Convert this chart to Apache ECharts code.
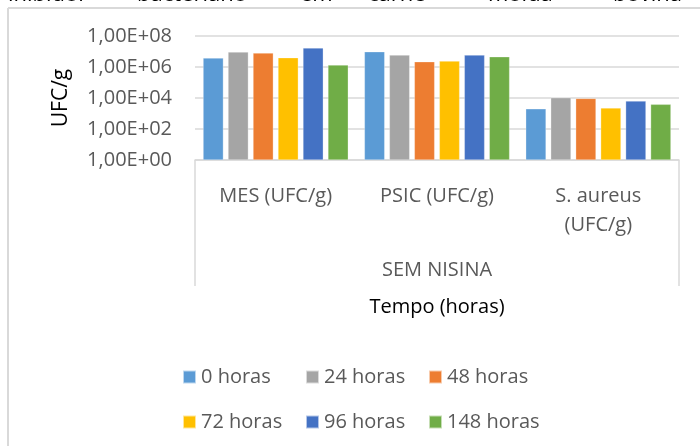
<!DOCTYPE html>
<html>
<head>
<meta charset="utf-8">
<script src="https://cdn.jsdelivr.net/npm/echarts@6/dist/echarts.min.js"></script>
<style>
  html, body { margin: 0; padding: 0; background: #fff; }
  #chart { width: 700px; height: 446px; }
</style>
</head>
<body>
<div id="chart"></div>
<script>
const categories = ['MES (UFC/g)', 'PSIC (UFC/g)', 'S. aureus\n(UFC/g)'];
const groupLabel = ['SEM NISINA'];
const seriesNames = ['0 horas', '24 horas', '48 horas', '72 horas', '96 horas', '148 horas'];
const h0   = [3.8e6, 9.7e6, 2.0e3];
const h24  = [9.3e6, 5.9e6, 1.05e4];
const h48  = [8.0e6, 2.2e6, 9.4e3];
const h72  = [4.0e6, 2.4e6, 2.3e3];
const h96  = [1.7e7, 5.9e6, 6.4e3];
const h148 = [1.35e6, 4.6e6, 3.9e3];
const seriesValues = [h0, h24, h48, h72, h96, h148];
const colors = ['#5B9BD5', '#A5A5A5', '#ED7D31', '#FFC000', '#4472C4', '#70AD47'];
const topWords = ['inibidor', 'bacteriano', 'em', 'carne', 'moída', 'bovina'];

const FONT = 'Open Sans';
const chart = echarts.init(document.getElementById('chart'), null, { renderer: 'canvas' });

const legendPos = [[182, 367], [305, 367], [428, 367], [182, 412], [305, 412], [428, 412]];
const topWordX = [8, 137, 300, 368, 488, 613];

const option = {
  backgroundColor: '#ffffff',
  animation: false,
  textStyle: { fontFamily: FONT },
  grid: { left: 195, right: 21, top: 36, bottom: 286, containLabel: false },
  xAxis: [
    {
      type: 'category',
      data: categories,
      position: 'bottom',
      axisLine: { show: true, lineStyle: { color: '#d9d9d9', width: 1.5 } },
      axisTick: { show: false },
      axisLabel: { color: '#595959', fontSize: 20, fontFamily: FONT, margin: 22, lineHeight: 29 },
      splitLine: { show: false }
    },
    {
      type: 'category',
      data: groupLabel,
      position: 'bottom',
      axisLine: { show: false },
      axisTick: { show: true, length: 126, lineStyle: { color: '#d9d9d9', width: 1.5 } },
      axisLabel: { color: '#595959', fontSize: 20, fontFamily: FONT, margin: 100 },
      name: 'Tempo (horas)',
      nameLocation: 'middle',
      nameGap: 137,
      nameTextStyle: { color: '#000', fontSize: 20, fontFamily: FONT }
    }
  ],
  yAxis: {
    type: 'log',
    logBase: 10,
    min: 1,
    max: 1e8,
    interval: 2,
    name: 'UFC/g',
    nameLocation: 'middle',
    nameRotate: 90,
    nameGap: 123,
    nameTextStyle: { color: '#000', fontSize: 21, fontFamily: FONT },
    axisLine: { show: false },
    axisTick: { show: false },
    axisLabel: {
      color: '#595959', fontSize: 20, fontFamily: FONT, margin: 23,
      formatter: function (v) {
        const e = Math.round(Math.log10(v));
        return '1,00E+' + String(e).padStart(2, '0');
      }
    },
    splitLine: { show: true, lineStyle: { color: '#d9d9d9', width: 1.5 } }
  },
  legend: seriesNames.map(function (n, i) {
    return {
      data: [n],
      left: legendPos[i][0],
      top: legendPos[i][1],
      itemWidth: 13,
      itemHeight: 13,
      icon: 'rect',
      padding: 0,
      textStyle: { color: '#595959', fontSize: 20, fontFamily: FONT },
      selectedMode: false
    };
  }),
  series: seriesNames.map(function (n, i) {
    return {
      name: n,
      type: 'bar',
      xAxisIndex: 0,
      data: seriesValues[i],
      barGap: '23%',
      barCategoryGap: '10%',
      itemStyle: { color: colors[i], borderColor: 'rgba(255,255,255,0.6)', borderWidth: 0.5 }
    };
  }),
  graphic: [
    { type: 'line', shape: { x1: 8, y1: 8, x2: 700, y2: 8 }, style: { stroke: '#d9d9d9', lineWidth: 2 }, silent: true },
    { type: 'line', shape: { x1: 8, y1: 8, x2: 8, y2: 446 }, style: { stroke: '#d9d9d9', lineWidth: 2 }, silent: true }
  ].concat(topWords.map(function (w, i) {
    return {
      type: 'text', x: topWordX[i], y: -5, silent: true, z: 10,
      style: { text: w, fill: '#000', fontSize: 22, fontFamily: FONT, align: 'left', verticalAlign: 'middle' }
    };
  }))
};

chart.setOption(option);
</script>
</body>
</html>
